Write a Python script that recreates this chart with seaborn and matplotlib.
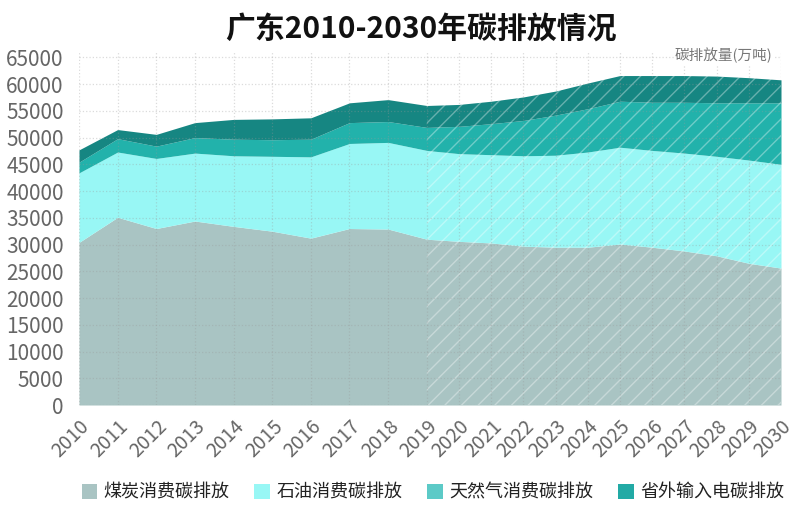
import numpy as np
import matplotlib
matplotlib.use('Agg')
import matplotlib.pyplot as plt
import seaborn as sns
from matplotlib.patches import Patch

# ---------------- data (万吨) ----------------
years = list(range(2010, 2031))
coal = [30400, 35100, 33000, 34400, 33400, 32500, 31200, 33000, 32900, 31000, 30600,
        30300, 29700, 29500, 29500, 30100, 29500, 28800, 27900, 26500, 25600]
oil = [13000, 12200, 13100, 12700, 13200, 14000, 15200, 15900, 16200, 16600, 16400,
       16500, 16900, 17200, 17800, 18100, 18100, 18300, 18600, 19300, 19400]
gas = [2000, 2500, 2300, 2900, 3100, 3100, 3300, 3900, 3900, 4300, 5100,
       5800, 6600, 7500, 8100, 8600, 9000, 9500, 10000, 10700, 11500]
power_import = [2300, 1700, 2200, 2800, 3700, 3900, 4000, 3700, 4100, 4100, 4100,
                4200, 4400, 4500, 4800, 4800, 5000, 5000, 5000, 4700, 4300]
labels = ['煤炭消费碳排放', '石油消费碳排放', '天然气消费碳排放', '省外输入电碳排放']
forecast_start = 2019

area_colors = ['#a9c4c3', '#98f7f5', '#22b2ab', '#168682']
legend_colors = ['#a9c4c3', '#98f7f5', '#5ccac7', '#22aaa5']

sns.set_theme(style='white')
plt.rcParams['font.family'] = ['Noto Sans CJK SC', 'DejaVu Sans']
plt.rcParams['hatch.linewidth'] = 1.0

# history years are drawn wider than forecast years
k = 1.2
def fwd(x):
    x = np.asarray(x, dtype=float)
    return np.where(x <= forecast_start, (x - 2010) * k, (forecast_start - 2010) * k + (x - forecast_start))

def inv(u):
    u = np.asarray(u, dtype=float)
    b = (forecast_start - 2010) * k
    return np.where(u <= b, 2010 + u / k, forecast_start + (u - b))

fig = plt.figure(figsize=(8, 5.17), dpi=100)
ax = fig.add_axes([0.09875, 0.2166, 0.8775, 0.6828])
ax.set_xscale('function', functions=(fwd, inv))

ax.stackplot(years, coal, oil, gas, power_import, colors=area_colors, linewidth=0)

# hatched overlay on the forecast period
total = np.array(coal) + np.array(oil) + np.array(gas) + np.array(power_import)
yrs = np.array(years)
m = yrs >= forecast_start
ax.fill_between(yrs[m], 0, total[m], facecolor='none', edgecolor=(1, 1, 1, 0.35),
                hatch='//', linewidth=0)

ax.set_xlim(2010, 2030)
ax.set_ylim(0, 66000)
ax.set_xticks(years)
ax.set_xticklabels([str(y) for y in years], rotation=45, ha='right', rotation_mode='anchor',
                   fontsize=14, color='#666666')
ax.set_yticks(range(0, 65001, 5000))
ax.set_yticklabels([str(v) for v in range(0, 65001, 5000)], fontsize=15, color='#666666')
ax.tick_params(axis='both', length=0)
ax.tick_params(axis='y', pad=11)
ax.tick_params(axis='x', pad=8)
ax.grid(True, linestyle=':', color='#999999', alpha=0.35, linewidth=0.9)
ax.set_axisbelow(False)
for s in ax.spines.values():
    s.set_visible(False)

fig.text(0.526, 0.945, '广东2010-2030年碳排放情况', ha='center', va='center',
         fontsize=21.5, fontweight='bold', color='#111111')
fig.text(0.966, 0.892, '碳排放量(万吨)', ha='right', va='center', fontsize=10.5, color='#777777',
         bbox=dict(facecolor='white', edgecolor='none', pad=1))

handles = [Patch(facecolor=c, edgecolor='none') for c in legend_colors]
fig.legend(handles, labels, loc='center', bbox_to_anchor=(0.541, 0.047), ncol=4, frameon=False,
           fontsize=13, handlelength=0.85, handleheight=0.85, handletextpad=0.35, columnspacing=1.4,
           labelcolor='#222222')

fig.savefig('out.png', dpi=100)
